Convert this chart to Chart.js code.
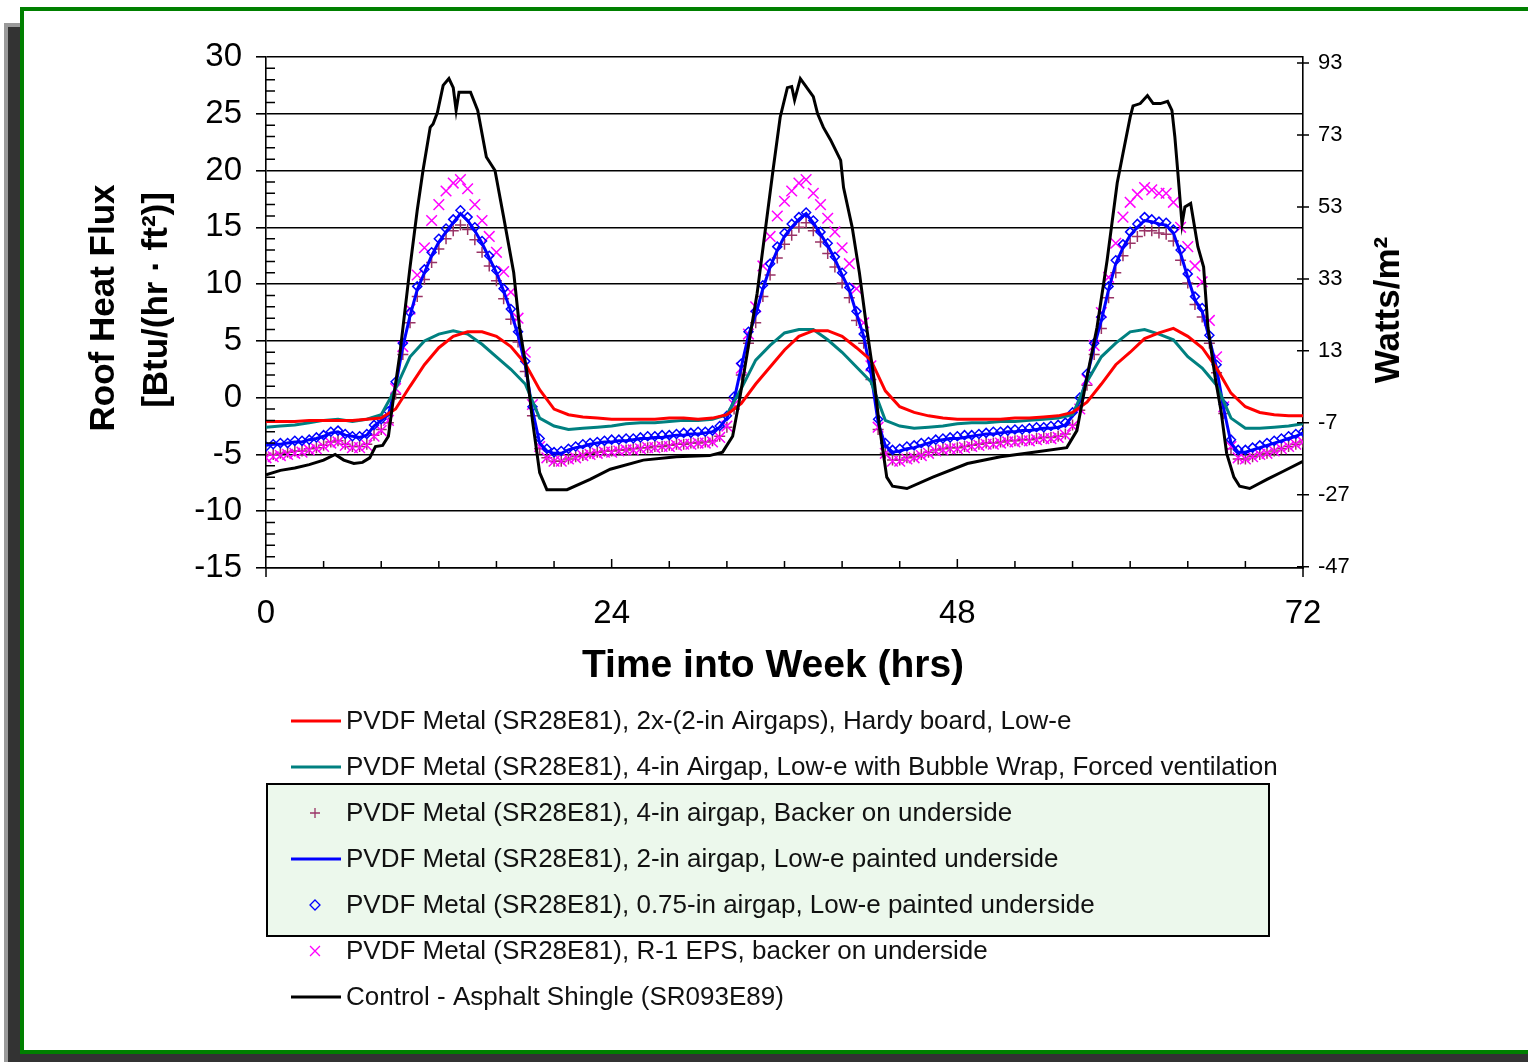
<!DOCTYPE html>
<html>
<head>
<meta charset="utf-8">
<script src="https://cdn.jsdelivr.net/npm/chart.js@4.4.1/dist/chart.umd.min.js"></script>
<style>
  html, body { margin: 0; padding: 0; background: #fff; overflow: hidden; }
  .fringe { position: absolute; left: 4px; top: 23px; width: 16px; height: 1039px; background: #9a9a9a; }
  .shadow { position: absolute; left: 8px; top: 27px; width: 1520px; height: 1035px; background: #333; }
  .frame { position: absolute; left: 20px; top: 7px; width: 1520px; height: 1047px; box-sizing: border-box;
           border: 4px solid #008000; border-right: none; background: #fff; }
  #wrap { position: absolute; left: 0; top: 0; width: 1528px; height: 1062px; }
</style>
</head>
<body>
<div class="fringe"></div>
<div class="shadow"></div>
<div class="frame"></div>
<div id="wrap"><canvas id="fluxChart"></canvas></div>
<script>
// hours into the week
const hourlySteps = Array.from({ length: 73 }, (_, i) => i);
const halfHourSteps = Array.from({ length: 145 }, (_, i) => i / 2);

const xTicks = [0, 24, 48, 72];
const leftTicks = [-15, -10, -5, 0, 5, 10, 15, 20, 25, 30];
const rightTicks = [-47, -27, -7, 13, 33, 53, 73, 93];
const WM2_PER_BTU = 3.1546;

const labels = [
  'PVDF Metal (SR28E81), 2x-(2-in Airgaps), Hardy board, Low-e',
  'PVDF Metal (SR28E81), 4-in Airgap, Low-e with Bubble Wrap, Forced ventilation',
  'PVDF Metal (SR28E81), 4-in airgap, Backer on underside',
  'PVDF Metal (SR28E81), 2-in airgap, Low-e painted underside',
  'PVDF Metal (SR28E81), 0.75-in airgap, Low-e painted underside',
  'PVDF Metal (SR28E81), R-1 EPS, backer on underside',
  'Control - Asphalt Shingle (SR093E89)'
];

// Btu/(hr·ft²), hourly
const hardyBoard = [
  -2.1, -2.1, -2.1, -2.0, -2.0, -2.0, -2.0, -1.9, -1.8, -1.0,
  1.0, 2.9, 4.4, 5.4, 5.8, 5.8, 5.4, 4.5, 3.0, 0.7,
  -1.0, -1.5, -1.7, -1.8, -1.9, -1.9, -1.9, -1.9, -1.8, -1.8,
  -1.9, -1.8, -1.5, -0.5, 1.2, 2.7, 4.2, 5.4, 5.9, 5.9,
  5.4, 4.4, 3.3, 0.6, -0.8, -1.3, -1.6, -1.8, -1.9, -1.9,
  -1.9, -1.9, -1.8, -1.8, -1.7, -1.6, -1.3, -0.4, 1.2, 2.9,
  4.0, 5.2, 5.7, 6.1, 5.4, 4.4, 2.6, 0.4, -0.8, -1.3,
  -1.5, -1.6, -1.6
];
const bubbleWrap = [
  -2.6, -2.5, -2.4, -2.2, -2.0, -1.9, -2.1, -1.9, -1.5, 0.8,
  3.6, 5.0, 5.6, 5.9, 5.6, 4.7, 3.6, 2.5, 1.2, -1.8,
  -2.5, -2.8, -2.7, -2.6, -2.5, -2.3, -2.2, -2.2, -2.1, -2.0,
  -2.0, -1.9, -1.5, 0.8, 3.3, 4.6, 5.7, 6.0, 6.0, 5.1,
  4.0, 2.7, 1.4, -2.0, -2.5, -2.7, -2.6, -2.5, -2.3, -2.2,
  -2.2, -2.1, -2.1, -2.0, -1.9, -1.8, -1.5, 1.4, 3.6, 4.8,
  5.8, 6.0, 5.6, 5.1, 3.6, 2.6, 1.1, -1.8, -2.7, -2.7,
  -2.6, -2.5, -2.3
];

// Btu/(hr·ft²), every half hour
const backer4in = [
  -5.0, -5.0, -4.9, -4.8, -4.7, -4.7, -4.5, -4.4, -4.2, -3.9,
  -3.8, -4.1, -4.3, -4.3, -4.1, -3.3, -2.8, -2.2, 0.3, 3.8,
  6.6, 8.9, 10.4, 11.9, 13.1, 14.0, 14.7, 15.2, 14.8, 13.9,
  12.8, 11.6, 10.3, 8.7, 6.9, 4.9, 2.3, -1.6, -4.5, -5.3,
  -5.6, -5.6, -5.4, -5.2, -5.1, -4.9, -4.8, -4.7, -4.7, -4.6,
  -4.6, -4.5, -4.4, -4.4, -4.3, -4.3, -4.2, -4.1, -4.1, -4.0,
  -4.0, -3.9, -3.8, -3.4, -2.6, -1.0, 2.0, 4.8, 6.6, 8.9,
  10.8, 12.3, 13.5, 14.3, 15.0, 15.4, 14.7, 13.7, 12.7, 11.5,
  10.1, 8.8, 6.8, 4.8, 1.6, -2.8, -4.9, -5.5, -5.5, -5.3,
  -5.2, -5.0, -4.8, -4.6, -4.5, -4.4, -4.4, -4.3, -4.2, -4.1,
  -4.0, -4.0, -3.9, -3.8, -3.8, -3.7, -3.7, -3.6, -3.5, -3.5,
  -3.4, -3.2, -2.4, -1.1, 1.1, 3.8, 6.1, 8.8, 11.0, 12.5,
  13.6, 14.2, 14.7, 14.7, 14.5, 14.4, 13.8, 12.1, 10.1, 8.2,
  7.1, 4.8, 2.2, -1.4, -4.5, -5.4, -5.4, -5.2, -5.0, -4.9,
  -4.7, -4.5, -4.3, -4.1, -3.9
];
const lowE2in = [
  -4.2, -4.1, -4.1, -4.0, -3.9, -3.9, -3.7, -3.6, -3.4, -3.1,
  -3.0, -3.3, -3.4, -3.5, -3.3, -2.5, -2.0, -1.5, 1.0, 4.5,
  7.2, 9.5, 11.0, 12.5, 13.7, 14.6, 15.4, 16.2, 15.6, 14.7,
  13.6, 12.3, 11.0, 9.4, 7.6, 5.5, 2.9, -1.1, -4.0, -4.7,
  -4.9, -4.9, -4.6, -4.4, -4.3, -4.1, -4.0, -3.9, -3.9, -3.8,
  -3.8, -3.7, -3.6, -3.6, -3.5, -3.5, -3.4, -3.3, -3.3, -3.2,
  -3.2, -3.1, -3.0, -2.6, -1.8, -0.2, 2.7, 5.5, 7.3, 9.6,
  11.5, 13.0, 14.2, 15.0, 15.7, 16.2, 15.4, 14.4, 13.4, 12.2,
  10.8, 9.5, 7.4, 5.4, 2.2, -2.2, -4.2, -4.8, -4.7, -4.5,
  -4.4, -4.2, -4.0, -3.8, -3.7, -3.6, -3.6, -3.5, -3.4, -3.3,
  -3.2, -3.2, -3.1, -3.0, -3.0, -2.9, -2.9, -2.8, -2.7, -2.7,
  -2.6, -2.4, -1.6, -0.3, 1.8, 4.5, 6.8, 9.5, 11.8, 13.2,
  14.3, 15.0, 15.6, 15.5, 15.3, 15.2, 14.5, 12.7, 10.6, 8.6,
  7.6, 5.2, 2.6, -1.0, -4.0, -4.8, -4.8, -4.6, -4.4, -4.2,
  -4.0, -3.8, -3.6, -3.4, -3.1
];
const lowE075in = [
  -4.3, -4.1, -4.0, -4.0, -3.8, -3.8, -3.7, -3.5, -3.3, -3.0,
  -2.9, -3.2, -3.4, -3.4, -3.2, -2.4, -1.9, -1.2, 1.4, 4.8,
  7.5, 9.8, 11.3, 12.8, 14.0, 14.9, 15.7, 16.5, 15.9, 15.0,
  13.8, 12.5, 11.2, 9.6, 7.8, 5.8, 3.2, -0.8, -3.6, -4.5,
  -4.8, -4.7, -4.5, -4.3, -4.1, -4.0, -3.9, -3.8, -3.7, -3.7,
  -3.6, -3.6, -3.5, -3.4, -3.4, -3.3, -3.3, -3.2, -3.1, -3.1,
  -3.0, -3.0, -2.9, -2.5, -1.6, 0.1, 3.0, 5.8, 7.6, 9.9,
  11.8, 13.3, 14.5, 15.3, 15.9, 16.3, 15.6, 14.6, 13.6, 12.4,
  11.0, 9.7, 7.6, 5.6, 2.5, -1.9, -4.0, -4.6, -4.5, -4.3,
  -4.2, -4.0, -3.9, -3.7, -3.6, -3.5, -3.4, -3.3, -3.3, -3.2,
  -3.1, -3.0, -3.0, -2.9, -2.8, -2.8, -2.7, -2.6, -2.6, -2.5,
  -2.4, -2.2, -1.3, 0.0, 2.1, 4.8, 7.1, 9.8, 12.1, 13.5,
  14.6, 15.3, 15.9, 15.7, 15.5, 15.4, 14.8, 13.0, 10.9, 8.9,
  7.9, 5.5, 2.9, -0.6, -3.7, -4.6, -4.6, -4.4, -4.2, -4.0,
  -3.8, -3.6, -3.4, -3.2, -3.0
];
const eps = [
  -5.3, -5.2, -5.1, -5.0, -4.9, -4.8, -4.6, -4.5, -4.3, -4.0,
  -3.9, -4.2, -4.4, -4.4, -4.2, -3.4, -2.9, -2.0, 0.8, 4.5,
  7.8, 10.8, 13.2, 15.6, 17.0, 18.2, 18.9, 19.2, 18.4, 17.0,
  15.6, 14.2, 12.8, 11.1, 9.3, 7.0, 4.0, -0.6, -4.3, -5.3,
  -5.6, -5.6, -5.4, -5.3, -5.1, -5.0, -4.9, -4.8, -4.8, -4.7,
  -4.6, -4.6, -4.5, -4.4, -4.4, -4.3, -4.3, -4.2, -4.1, -4.1,
  -4.0, -4.0, -3.9, -3.5, -2.5, -0.6, 2.6, 5.6, 8.0, 11.6,
  14.2, 16.0, 17.3, 18.2, 18.9, 19.2, 18.0, 17.0, 15.8, 14.6,
  13.2, 11.8, 9.6, 6.6, 2.8, -2.6, -4.9, -5.6, -5.6, -5.4,
  -5.3, -5.1, -4.9, -4.7, -4.6, -4.5, -4.5, -4.4, -4.3, -4.2,
  -4.1, -4.1, -4.0, -3.9, -3.9, -3.8, -3.8, -3.7, -3.6, -3.6,
  -3.5, -3.3, -2.5, -1.0, 1.6, 4.6, 7.5, 10.6, 13.6, 15.9,
  17.2, 17.9, 18.5, 18.3, 18.0, 18.0, 17.2, 15.0, 13.3, 11.6,
  10.2, 6.8, 3.6, -0.8, -4.3, -5.3, -5.4, -5.2, -5.0, -4.9,
  -4.7, -4.5, -4.3, -4.1, -3.9
];

// control roof, read at uneven times to keep its spikes
const controlHours = [
  0, 1, 2, 3, 4, 4.8, 5.4, 6.1, 6.7, 7.2, 7.6, 8.1, 8.5, 8.8, 9.3, 10, 10.5, 10.9, 11.4, 11.6,
  11.9, 12.3, 12.7, 13.0, 13.2, 13.4, 14.2, 14.7, 15.3, 15.9, 16.5, 17.2, 17.6, 18.1, 18.5, 19.0,
  19.5, 20.9, 22.5, 23.9, 26.2, 28.5, 30.8, 31.7, 32.4, 32.9, 34.1, 35.2, 35.7, 36.2, 36.5, 36.7,
  37.1, 37.5, 38, 38.3, 38.7, 39.2, 39.9, 40.1, 40.7, 41.2, 41.7, 42.2, 42.6, 43.1, 43.5, 44.5,
  46.3, 48.7, 51, 53.3, 55.6, 56.3, 57, 57.7, 58.4, 59.1, 59.5, 60, 60.2, 60.7, 61.2, 61.6, 62.1,
  62.6, 62.9, 63.1, 63.3, 63.6, 63.8, 64.2, 64.7, 65.1, 65.4, 65.9, 66.3, 66.7, 67.2, 67.6, 68.3,
  69.5, 70.6, 72
];
const controlFlux = [
  -6.8, -6.4, -6.2, -5.9, -5.5, -5.0, -5.5, -5.8, -5.7, -5.3, -4.3, -4.2, -3.4, -0.5, 3.9, 11.5, 16.5, 20.0, 23.8, 24.1,
  25.1, 27.5, 28.1, 27.3, 25.3, 26.9, 26.9, 25.3, 21.2, 20.0, 15.9, 11.0, 6.2, 2.4, -2.0, -6.6,
  -8.1, -8.1, -7.2, -6.3, -5.5, -5.2, -5.1, -4.8, -3.4, 0, 9.2, 20.0, 24.7, 27.3, 27.4, 26.2,
  28.1, 27.4, 26.5, 25.0, 23.8, 22.7, 20.9, 18.5, 15.0, 11.0, 6.2, 1.8, -2.6, -7.0, -7.8, -8.0,
  -7.0, -5.8, -5.2, -4.8, -4.4, -2.9, 1.8, 6.2, 12.1, 18.9, 21.5, 24.7, 25.7, 25.9, 26.6, 25.9, 25.9,
  26.1, 25.3, 23.0, 20.0, 15.3, 16.8, 17.1, 13.3, 11.5, 6.2, 1.8, -1.1, -4.9, -7.0, -7.8, -8.0,
  -7.2, -6.5, -5.6
];

const FONT = "'Liberation Sans', Arial, sans-serif";
Chart.defaults.font.family = FONT;
Chart.defaults.color = '#000';

function points(hours, values) {
  return hours.map((h, i) => ({ x: h, y: values[i] }));
}

function lineSet(label, hours, values, color, order) {
  return {
    label, data: points(hours, values), order,
    borderColor: color, backgroundColor: color, borderWidth: 3,
    pointRadius: 0, tension: 0, showLine: true
  };
}

function markerSet(label, hours, values, color, style, radius, order) {
  return {
    label, data: points(hours, values), order, showLine: false,
    borderColor: color, backgroundColor: 'rgba(0,0,0,0)',
    pointStyle: style, pointRadius: radius, pointBorderWidth: 1.5,
    pointBorderColor: color, pointBackgroundColor: 'rgba(0,0,0,0)'
  };
}

function drawMarker(ctx, style, x, y, r) {
  ctx.beginPath();
  if (style === 'cross') {
    ctx.moveTo(x - r, y); ctx.lineTo(x + r, y);
    ctx.moveTo(x, y - r); ctx.lineTo(x, y + r);
  } else if (style === 'crossRot') {
    const d = r * 0.707;
    ctx.moveTo(x - d, y - d); ctx.lineTo(x + d, y + d);
    ctx.moveTo(x + d, y - d); ctx.lineTo(x - d, y + d);
  } else if (style === 'rectRot') {
    ctx.moveTo(x, y - r); ctx.lineTo(x + r, y); ctx.lineTo(x, y + r); ctx.lineTo(x - r, y); ctx.closePath();
  }
  ctx.stroke();
}

const decor = {
  id: 'decor',
  afterDraw(chart) {
    const { ctx, chartArea: a, scales } = chart;
    const xs = scales.x, ys = scales.y, y2 = scales.y2;
    ctx.save();

    // minor and crossing tick marks
    ctx.strokeStyle = '#000';
    ctx.lineWidth = 1.5;
    ctx.beginPath();
    for (let v = -15; v <= 30; v++) {
      if (v % 5 === 0) continue;
      const py = ys.getPixelForValue(v);
      ctx.moveTo(a.left, py); ctx.lineTo(a.left + 9, py);
    }
    for (let h = 4; h < 72; h += 4) {
      const px = xs.getPixelForValue(h);
      ctx.moveTo(px, a.bottom); ctx.lineTo(px, a.bottom - (h % 24 === 0 ? 9 : 7));
    }
    ctx.moveTo(a.left, a.bottom); ctx.lineTo(a.left, a.bottom + 9);
    ctx.moveTo(a.right, a.bottom); ctx.lineTo(a.right, a.bottom + 9);
    rightTicks.forEach(v => {
      const py = y2.getPixelForValue(v);
      ctx.moveTo(a.right - 6, py); ctx.lineTo(a.right + 6, py);
    });
    ctx.stroke();

    // axis titles
    ctx.fillStyle = '#000';
    ctx.textAlign = 'center';
    ctx.textBaseline = 'middle';
    ctx.font = 'bold 39px ' + FONT;
    ctx.fillText('Time into Week (hrs)', 773, 666);

    ctx.font = 'bold 35px ' + FONT;
    const rotated = (text, cx, cy) => {
      ctx.save();
      ctx.translate(cx, cy);
      ctx.rotate(-Math.PI / 2);
      ctx.fillText(text, 0, 0);
      ctx.restore();
    };
    rotated('Roof Heat Flux', 104, 308);
    rotated('[Btu/(hr · ft²)]', 157, 300);
    rotated('Watts/m²', 1389, 310);

    // legend
    const rowTop = 721, rowStep = 46;
    ctx.fillStyle = '#ecf8ec';
    ctx.fillRect(267, 784, 1002, 152);
    ctx.strokeStyle = '#000';
    ctx.lineWidth = 2;
    ctx.strokeRect(267, 784, 1002, 152);

    ctx.font = '26px ' + FONT;
    ctx.textAlign = 'left';
    chart.data.datasets.forEach((ds, i) => {
      const cy = rowTop + i * rowStep;
      ctx.strokeStyle = ds.borderColor;
      if (ds.showLine) {
        ctx.lineWidth = 3;
        ctx.beginPath();
        ctx.moveTo(291, cy); ctx.lineTo(341, cy);
        ctx.stroke();
      } else {
        ctx.lineWidth = 1.3;
        drawMarker(ctx, ds.pointStyle, 315, cy, ds.pointStyle === 'crossRot' ? 7 : 5);
      }
      ctx.fillStyle = '#111';
      ctx.fillText(ds.label, 346, cy + 1);
    });
    ctx.restore();
  }
};

new Chart(document.getElementById('fluxChart'), {
  type: 'line',
  data: {
    datasets: [
      lineSet(labels[0], hourlySteps, hardyBoard, '#ff0000', 1),
      lineSet(labels[1], hourlySteps, bubbleWrap, '#008080', 2),
      markerSet(labels[2], halfHourSteps, backer4in, '#993366', 'cross', 5.5, 6),
      lineSet(labels[3], halfHourSteps, lowE2in, '#0000ff', 4),
      markerSet(labels[4], halfHourSteps, lowE075in, '#0000ff', 'rectRot', 4.5, 3),
      markerSet(labels[5], halfHourSteps, eps, '#ff00ff', 'crossRot', 7.5, 5),
      lineSet(labels[6], controlHours, controlFlux, '#000000', 0)
    ]
  },
  options: {
    responsive: true,
    maintainAspectRatio: false,
    animation: false,
    layout: { padding: { top: 57, left: 0, right: 0, bottom: 0 } },
    plugins: { legend: { display: false }, tooltip: { enabled: false } },
    scales: {
      x: {
        type: 'linear', position: 'bottom', min: 0, max: 72,
        afterBuildTicks: s => { s.ticks = xTicks.map(v => ({ value: v })); },
        afterFit: s => { s.height = 1062 - 568; },
        grid: { display: false, drawTicks: false, tickLength: 0 },
        border: { display: true, color: '#000', width: 1.6 },
        ticks: { font: { size: 33 }, color: '#000', padding: 26, maxRotation: 0 }
      },
      y: {
        type: 'linear', position: 'left', min: -15, max: 30,
        afterBuildTicks: s => { s.ticks = leftTicks.map(v => ({ value: v })); },
        afterFit: s => { s.width = 266; },
        grid: { color: '#000', lineWidth: 1.6, drawTicks: true, tickLength: 10 },
        border: { display: true, color: '#000', width: 1.6 },
        ticks: { font: { size: 33 }, color: '#000', padding: 14 }
      },
      y2: {
        type: 'linear', position: 'right',
        min: -15 * WM2_PER_BTU, max: 30 * WM2_PER_BTU,
        afterBuildTicks: s => { s.ticks = rightTicks.map(v => ({ value: v })); },
        afterFit: s => { s.width = 1528 - 1303; },
        grid: { drawOnChartArea: false, drawTicks: false, tickLength: 0 },
        border: { display: true, color: '#000', width: 1.6 },
        ticks: { font: { size: 22 }, color: '#000', padding: 15 }
      }
    }
  },
  plugins: [decor]
});
</script>
</body>
</html>
